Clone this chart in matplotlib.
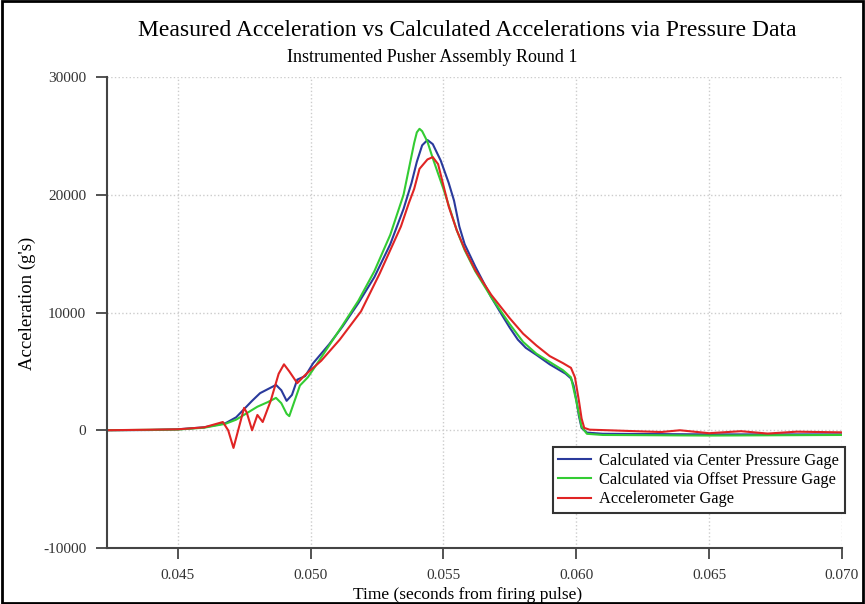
#!/usr/bin/env python3
"""
Measured vs calculated acceleration, pusher assembly round 1.
"""

import matplotlib
matplotlib.use("Agg")
import matplotlib.pyplot as plt
from matplotlib.patches import Rectangle

# time (s) / acceleration (g's)
t_center = [0.0423, 0.0440, 0.0450, 0.0460, 0.0468, 0.0472, 0.0475, 0.0478, 0.0481,
            0.0484, 0.0487, 0.0489, 0.0491, 0.0493, 0.0495, 0.0498, 0.0501, 0.0507,
            0.0512, 0.0518, 0.0524, 0.0530, 0.0535, 0.0538, 0.0540, 0.0542, 0.0544,
            0.0546, 0.0549, 0.0552, 0.0554, 0.0556, 0.0558, 0.0562, 0.0568, 0.0572,
            0.0575, 0.0578, 0.0581, 0.0585, 0.0590, 0.0596, 0.0598, 0.0599, 0.0600,
            0.0601, 0.0602, 0.0604, 0.0610, 0.0650, 0.0680, 0.0700]
a_center = [0, 20, 80, 250, 600, 1100, 1800, 2500, 3150,
            3500, 3850, 3400, 2500, 3000, 4300, 4600, 5700, 7300,
            8800, 10800, 13000, 15800, 18800, 21000, 22800, 24200, 24650,
            24300, 22900, 21000, 19500, 17300, 15800, 13900, 11300, 9800,
            8700, 7700, 7000, 6400, 5600, 4800, 4400, 3800, 2600,
            1200, 200, -200, -300, -350, -350, -350]

t_offset = [0.0423, 0.0450, 0.0460, 0.0468, 0.0472, 0.0476, 0.0480, 0.0484, 0.0487,
            0.0489, 0.0491, 0.0492, 0.0494, 0.0496, 0.0499, 0.0502, 0.0507, 0.0512,
            0.0518, 0.0524, 0.0530, 0.0535, 0.0537, 0.0539, 0.0540, 0.0541, 0.0542,
            0.0544, 0.0546, 0.0550, 0.0555, 0.0558, 0.0562, 0.0568, 0.0575, 0.0580,
            0.0585, 0.0590, 0.0595, 0.0598, 0.0600, 0.0602, 0.0604, 0.0610, 0.0650,
            0.0700]
a_offset = [0, 60, 220, 550, 900, 1450, 2000, 2400, 2750,
            2300, 1400, 1200, 2500, 3800, 4500, 5500, 7200, 8900,
            11000, 13500, 16600, 20000, 22200, 24400, 25300, 25600, 25400,
            24500, 23100, 20500, 17000, 15300, 13500, 11300, 9000, 7500,
            6500, 5800, 5100, 4500, 2500, 300, -300, -400, -450,
            -400]

t_accel = [0.0423, 0.0450, 0.0460, 0.0467, 0.0469, 0.0471, 0.0473, 0.0475, 0.0476,
           0.0478, 0.0480, 0.0482, 0.0485, 0.0488, 0.0490, 0.0492, 0.0495, 0.0498,
           0.0504, 0.0511, 0.0519, 0.0526, 0.0534, 0.0537, 0.0539, 0.0541, 0.0544,
           0.0546, 0.0548, 0.0550, 0.0552, 0.0555, 0.0558, 0.0562, 0.0568, 0.0575,
           0.0580, 0.0585, 0.0590, 0.0595, 0.0598, 0.05995, 0.0601, 0.0602, 0.0603,
           0.0605, 0.0612, 0.0625, 0.0632, 0.0639, 0.0650, 0.0662, 0.0672, 0.0683,
           0.0700]
a_accel = [0, 80, 250, 700, 0, -1500, 200, 1900, 1500,
           0, 1300, 700, 2500, 4800, 5600, 5000, 4000, 4700,
           5900, 7700, 10100, 13300, 17300, 19300, 20500, 22200, 23000,
           23200, 22600, 20800, 19000, 17000, 15400, 13600, 11500, 9500,
           8200, 7200, 6300, 5700, 5300, 4500, 2500, 1000, 200,
           50, 0, -100, -150, 0, -250, -80, -280, -120,
           -180]

labels = ["Calculated via Center Pressure Gage",
          "Calculated via Offset Pressure Gage",
          "Accelerometer Gage"]
x_ticks = [0.045, 0.050, 0.055, 0.060, 0.065, 0.070]
y_ticks = [-10000, 0, 10000, 20000, 30000]


def main():
    plt.rcParams["font.family"] = ["Liberation Serif", "DejaVu Serif"]

    fig = plt.figure(figsize=(8.65, 6.04), dpi=100)
    ax = fig.add_axes([0.1237, 0.0927, 0.8497, 0.7798])

    ax.plot(t_center, a_center, color="#2a3a9c", lw=1.5, label=labels[0])
    ax.plot(t_offset, a_offset, color="#33cc33", lw=1.5, label=labels[1])
    ax.plot(t_accel, a_accel, color="#e02424", lw=1.5, label=labels[2])

    ax.set_xlim(0.04234, 0.070)
    ax.set_ylim(-10000, 30000)
    ax.set_xticks(x_ticks)
    ax.set_xticklabels(["%.3f" % v for v in x_ticks])
    ax.set_yticks(y_ticks)
    ax.set_yticklabels(["%d" % v for v in y_ticks])

    for side in ("top", "right"):
        ax.spines[side].set_visible(False)
    for side in ("left", "bottom"):
        ax.spines[side].set_color("#444444")
        ax.spines[side].set_linewidth(1.5)
    ax.tick_params(direction="out", length=8, width=1.3, color="#444444",
                   labelsize=11, labelcolor="#333333", pad=7)
    ax.grid(True, color="#cccccc", linestyle=":", linewidth=1)

    ax.set_xlabel("Time (seconds from firing pulse)", fontsize=12.5)
    ax.xaxis.set_label_coords(0.49, -0.083)
    ax.set_ylabel("Acceleration (g's)", fontsize=13.5)
    ax.yaxis.set_label_coords(-0.097, 0.52)

    fig.text(0.540, 0.950, "Measured Acceleration vs Calculated Accelerations via Pressure Data",
             ha="center", va="center", fontsize=17)
    fig.text(0.500, 0.905, "Instrumented Pusher Assembly Round 1",
             ha="center", va="center", fontsize=13)

    leg = ax.legend(loc="lower right", bbox_to_anchor=(1.004, 0.074), borderaxespad=0,
                    fontsize=11.8, fancybox=False, framealpha=1, edgecolor="#333333",
                    handlelength=2.0, labelspacing=0.2, borderpad=0.35, handletextpad=0.5)
    leg.get_frame().set_linewidth(1.5)

    fig.patches.append(Rectangle((0.002, 0.002), 0.996, 0.996, transform=fig.transFigure,
                                 fill=False, edgecolor="black", lw=2))

    fig.savefig("out.png", dpi=100)


if __name__ == '__main__':
    main()
